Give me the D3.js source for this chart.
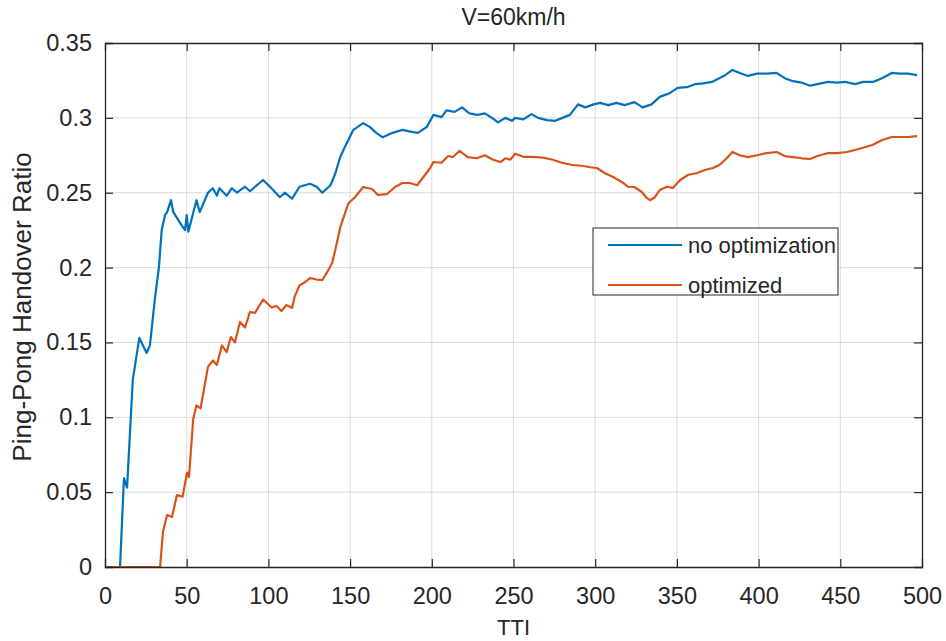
<!DOCTYPE html>
<html>
<head>
<meta charset="utf-8">
<script src="https://cdn.jsdelivr.net/npm/d3@7"></script>
<style>
  html, body { margin: 0; padding: 0; background: #fff; }
  svg { display: block; font-family: "Liberation Sans", Arial, sans-serif; }
</style>
</head>
<body>
<svg id="chart" width="946" height="641"></svg>
<script>
// Ping-pong handover ratio over time (TTI), V = 60 km/h
const chartTitle = "V=60km/h";
const xLabel = "TTI";
const yLabel = "Ping-Pong Handover Ratio";
const seriesNames = ["no optimization", "optimized"];
const seriesColors = ["#0072BD", "#D95319"];
const xTicks = [0, 50, 100, 150, 200, 250, 300, 350, 400, 450, 500];
const yTicks = [0, 0.05, 0.1, 0.15, 0.2, 0.25, 0.3, 0.35];

// no optimization
const noOptTTI = [1, 9.2, 11.6, 13.5, 17, 21, 25.5, 27.5, 30.6, 33, 34.7, 36.7, 38, 40.4, 41.8, 47, 49, 50, 51, 56, 58, 63, 66, 68.5, 70, 74.5, 77.7, 80.8, 85.7, 88.7, 96.7, 101, 107, 110, 114.5, 119, 125.5, 129.5, 133, 138, 141, 144, 147, 152, 158, 162, 166, 170, 176, 182, 188.5, 191.5, 197, 201, 206, 209, 214, 218.5, 223, 228, 232.5, 237.5, 240.5, 245, 249, 251, 256, 261, 265, 270.5, 275.5, 280, 284.5, 289.5, 294, 299, 303, 308, 313, 318, 324, 329, 334.5, 339.5, 345.5, 350.5, 356, 361, 366, 371.5, 375, 379.5, 384, 388.5, 393.5, 399, 405, 411, 416, 421, 426.5, 431.5, 436, 442.5, 448, 453, 459, 464, 470, 475.5, 481.5, 486.5, 491.5, 497];
const noOptRatio = [0, 0, 0.0594, 0.053, 0.125, 0.153, 0.143, 0.148, 0.18, 0.2, 0.225, 0.235, 0.237, 0.245, 0.237, 0.228, 0.225, 0.235, 0.224, 0.245, 0.237, 0.25, 0.253, 0.248, 0.253, 0.248, 0.253, 0.25, 0.254, 0.251, 0.2585, 0.254, 0.247, 0.25, 0.246, 0.254, 0.256, 0.254, 0.25, 0.255, 0.263, 0.274, 0.281, 0.292, 0.2965, 0.294, 0.29, 0.287, 0.29, 0.292, 0.2905, 0.29, 0.294, 0.302, 0.3005, 0.305, 0.304, 0.307, 0.303, 0.302, 0.303, 0.2995, 0.297, 0.3, 0.298, 0.3, 0.299, 0.3025, 0.3, 0.2985, 0.298, 0.3, 0.302, 0.309, 0.307, 0.309, 0.31, 0.3085, 0.31, 0.3085, 0.3105, 0.307, 0.309, 0.314, 0.3165, 0.32, 0.3205, 0.3225, 0.323, 0.324, 0.326, 0.3285, 0.332, 0.33, 0.328, 0.3295, 0.3295, 0.33, 0.3265, 0.3245, 0.3235, 0.3215, 0.3225, 0.324, 0.3235, 0.324, 0.3225, 0.324, 0.324, 0.3265, 0.33, 0.3295, 0.3295, 0.3285];

// optimized
const optTTI = [1, 33.7, 35.5, 38, 41, 44, 47.5, 50.2, 51.4, 54, 56, 58.5, 63, 66, 68.5, 71.5, 74.5, 77, 79.5, 82.6, 85.7, 88.7, 91.8, 96.7, 102, 105, 108, 111, 114.5, 116, 119, 122, 125.5, 129.5, 133, 136, 139, 141, 144, 149, 153, 158, 163.5, 167, 172.5, 177.5, 182, 186.5, 191, 194.5, 199, 201, 206, 210, 213, 217, 222, 227.5, 232.5, 237.5, 242, 245, 248, 251, 256, 262, 268, 274, 279.5, 286, 292, 297, 301, 306, 311, 316.5, 320, 324, 328.5, 331.5, 333.5, 336.5, 339.5, 344, 347.5, 352, 357, 362, 367, 372, 376, 380.5, 384, 388.5, 393.5, 399, 405, 411, 416, 421, 426.5, 431.5, 436, 442.5, 448, 454, 459, 464, 470, 475.5, 481.5, 486.5, 491.5, 497];
const optRatio = [0, 0, 0.0235, 0.0347, 0.0334, 0.048, 0.047, 0.063, 0.06, 0.099, 0.108, 0.106, 0.1336, 0.138, 0.135, 0.148, 0.1436, 0.1536, 0.15, 0.1637, 0.16, 0.1703, 0.1697, 0.1787, 0.1733, 0.1744, 0.171, 0.175, 0.173, 0.1804, 0.188, 0.19, 0.193, 0.192, 0.1917, 0.197, 0.203, 0.212, 0.227, 0.243, 0.247, 0.2538, 0.2525, 0.2485, 0.249, 0.2538, 0.2565, 0.2565, 0.255, 0.26, 0.2665, 0.2705, 0.27, 0.2745, 0.2738, 0.278, 0.2738, 0.273, 0.275, 0.272, 0.2705, 0.273, 0.272, 0.276, 0.274, 0.274, 0.2735, 0.272, 0.27, 0.2685, 0.268, 0.267, 0.2665, 0.263, 0.2605, 0.257, 0.254, 0.2538, 0.2505, 0.2465, 0.245, 0.247, 0.2518, 0.254, 0.2532, 0.2585, 0.262, 0.263, 0.2652, 0.2665, 0.2685, 0.273, 0.2772, 0.275, 0.2738, 0.275, 0.2765, 0.2772, 0.2745, 0.2738, 0.273, 0.2725, 0.2745, 0.2765, 0.2765, 0.2772, 0.2785, 0.28, 0.282, 0.2852, 0.2872, 0.2872, 0.2872, 0.2878];

const series = [
  { name: seriesNames[0], color: seriesColors[0], points: noOptTTI.map((t, i) => [t, noOptRatio[i]]) },
  { name: seriesNames[1], color: seriesColors[1], points: optTTI.map((t, i) => [t, optRatio[i]]) }
];

const svg = d3.select("#chart");
const plot = { left: 105, right: 922, top: 43, bottom: 567 };
const axisColor = "#262626";
const textColor = "#262626";
const fontSize = 23.5;

const x = d3.scaleLinear().domain([0, 500]).range([plot.left, plot.right]);
const y = d3.scaleLinear().domain([0, 0.35]).range([plot.bottom, plot.top]);

// grid
const grid = svg.append("g").attr("stroke", "#dcdcdc").attr("stroke-width", 1);
grid.selectAll("line.gx").data(xTicks.slice(1, -1)).join("line")
  .attr("x1", d => x(d)).attr("x2", d => x(d))
  .attr("y1", plot.top).attr("y2", plot.bottom);
grid.selectAll("line.gy").data(yTicks.slice(1, -1)).join("line")
  .attr("x1", plot.left).attr("x2", plot.right)
  .attr("y1", d => y(d)).attr("y2", d => y(d));

// data lines
const line = d3.line().x(d => x(d[0])).y(d => y(d[1]));
svg.append("g").selectAll("path").data(series).join("path")
  .attr("d", d => line(d.points))
  .attr("fill", "none")
  .attr("stroke", d => d.color)
  .attr("stroke-width", 2.2)
  .attr("stroke-linejoin", "round");

// axes with inward ticks on all four sides
const tickLen = 8;
const fmtY = d => d === 0 ? "0" : String(+d.toFixed(2));
const bottomAxis = d3.axisBottom(x).tickValues(xTicks).tickSize(-tickLen).tickPadding(20).tickFormat(d3.format("d"));
const topAxis = d3.axisTop(x).tickValues(xTicks).tickSize(-tickLen).tickFormat("");
const leftAxis = d3.axisLeft(y).tickValues(yTicks).tickSize(-tickLen).tickPadding(13).tickFormat(fmtY);
const rightAxis = d3.axisRight(y).tickValues(yTicks).tickSize(-tickLen).tickFormat("");

function styleAxis(g) {
  g.select(".domain").attr("stroke", axisColor).attr("stroke-width", 1.3);
  g.selectAll(".tick line").attr("stroke", axisColor).attr("stroke-width", 1.2);
  g.selectAll(".tick text").attr("fill", textColor)
    .style("font-family", "'Liberation Sans', Arial, sans-serif")
    .style("font-size", fontSize + "px");
}
svg.append("g").attr("transform", `translate(0,${plot.bottom})`).call(bottomAxis).call(styleAxis);
svg.append("g").attr("transform", `translate(0,${plot.top})`).call(topAxis).call(styleAxis);
svg.append("g").attr("transform", `translate(${plot.left},0)`).call(leftAxis).call(styleAxis);
svg.append("g").attr("transform", `translate(${plot.right},0)`).call(rightAxis).call(styleAxis);

// remove the tick marks sitting on the box corners
svg.selectAll(".tick").filter(d => d === 0 || d === 500 || d === 0.35).select("line").remove();

// labels
svg.append("text").attr("x", (plot.left + plot.right) / 2).attr("y", 25)
  .attr("text-anchor", "middle").attr("fill", textColor)
  .style("font-size", "23px").text(chartTitle);
svg.append("text").attr("x", (plot.left + plot.right) / 2).attr("y", 635)
  .attr("text-anchor", "middle").attr("fill", textColor)
  .style("font-size", "22px").text(xLabel);
svg.append("text")
  .attr("transform", `translate(31,${(plot.top + plot.bottom) / 2 + 2}) rotate(-90)`)
  .attr("text-anchor", "middle").attr("fill", textColor)
  .style("font-size", "26px").text(yLabel);

// legend
const legend = svg.append("g").attr("transform", "translate(593,228)");
legend.append("rect").attr("width", 245).attr("height", 67)
  .attr("fill", "#fff").attr("stroke", axisColor).attr("stroke-width", 1);
const rows = legend.selectAll("g.row").data(series).join("g")
  .attr("transform", (d, i) => `translate(0,${17 + i * 40})`);
rows.append("line").attr("x1", 15).attr("x2", 89).attr("y1", 0).attr("y2", 0)
  .attr("stroke", d => d.color).attr("stroke-width", 2.2);
rows.append("text").attr("x", 95).attr("y", 0).attr("dy", "0.35em")
  .attr("fill", textColor).style("font-size", "22px").text(d => d.name);
</script>
</body>
</html>
